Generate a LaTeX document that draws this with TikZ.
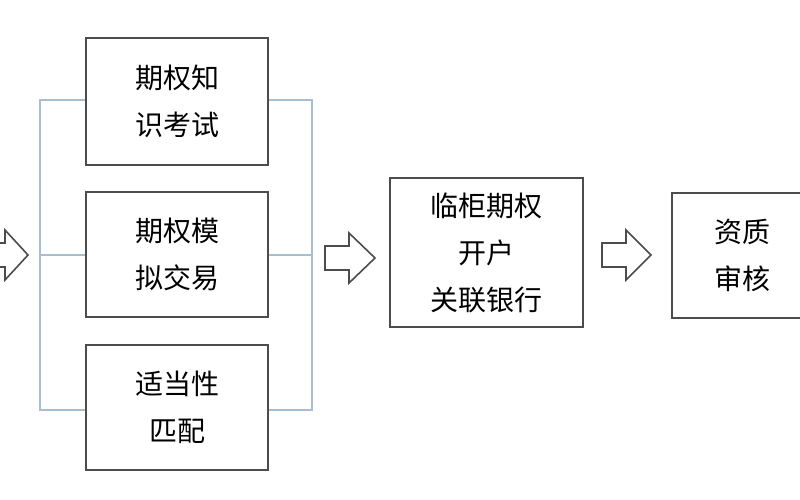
\documentclass[tikz,border=0pt]{standalone}
\usepackage{fontspec}
\newfontfamily\cjk{Noto Sans CJK SC}
\definecolor{brc}{HTML}{A9BDCF}
\begin{document}
\begin{tikzpicture}[x=1pt,y=-1pt,
  box/.style={draw=black!70,line width=1.2pt,fill=white,align=center,font=\cjk\fontsize{28}{47}\selectfont,inner sep=0pt},
  br/.style={draw=brc,line width=1.2pt},
  harrow/.style={draw=black!70,line width=1.6pt,fill=white}]
\useasboundingbox (0,0) rectangle (800,500);
\fill[white] (0,0) rectangle (800,500);
\draw[br] (86,100) -- (40,100) -- (40,410) -- (86,410);
\draw[br] (40,255) -- (86,255);
\draw[br] (268,100) -- (312,100) -- (312,410) -- (268,410);
\draw[br] (268,255) -- (312,255);
\node[box,minimum width=182pt,minimum height=127pt] (a) at (177,101.5) {期权知\\识考试};
\node[box,minimum width=182pt,minimum height=125pt] (b) at (177,254.5) {期权模\\拟交易};
\node[box,minimum width=182pt,minimum height=125pt] (c) at (177,407.5) {适当性\\匹配};
\node[box,minimum width=193pt,minimum height=149pt] (d) at (486.5,252.5) {临柜期权\\开户\\关联银行};
\node[box,minimum width=140pt,minimum height=125pt] (e) at (742,255.5) {资质\\审核};
\draw[harrow] (-20,243)--(5,243)--(5,230)--(28,255)--(5,280)--(5,267)--(-20,267)--cycle;
\draw[harrow] (325,246)--(349,246)--(349,233)--(375,258)--(349,283)--(349,270)--(325,270)--cycle;
\draw[harrow] (602,243)--(626,243)--(626,230)--(651,255)--(626,280)--(626,267)--(602,267)--cycle;
\end{tikzpicture}
\end{document}
